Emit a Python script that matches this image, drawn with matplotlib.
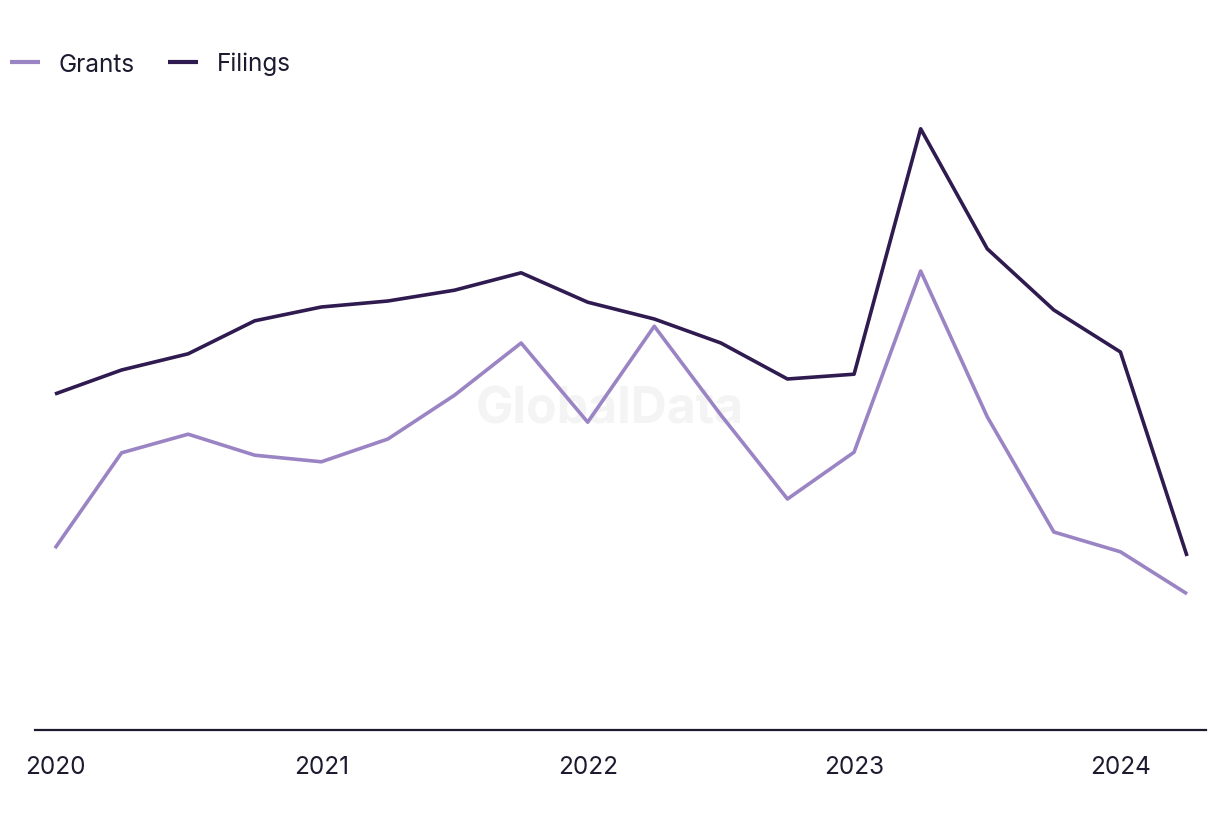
import matplotlib
matplotlib.use("Agg")
import matplotlib.pyplot as plt

quarters = ["2020Q1","2020Q2","2020Q3","2020Q4","2021Q1","2021Q2","2021Q3","2021Q4",
            "2022Q1","2022Q2","2022Q3","2022Q4","2023Q1","2023Q2","2023Q3","2023Q4",
            "2024Q1","2024Q2"]
filings = [56.0, 60.0, 62.7, 68.2, 70.5, 71.5, 73.3, 76.2, 71.3, 68.5, 64.5, 58.5,
           59.3, 100.2, 80.2, 70.0, 63.0, 29.0]
grants = [30.3, 46.2, 49.3, 45.8, 44.7, 48.5, 55.8, 64.5, 51.3, 67.3, 52.5, 38.5,
          46.3, 76.5, 52.2, 33.0, 29.7, 22.7]
tick_labels = ["2020", "2021", "2022", "2023", "2024"]

plt.rcParams['font.family'] = ['Inter', 'DejaVu Sans']
text_color = "#1b1a2e"

fig = plt.figure(figsize=(12.2, 8.2), dpi=100)
ax = fig.add_axes([35/1220, 89/820, (1206-35)/1220, 630/820])

x = list(range(len(quarters)))
l1, = ax.plot(x, grants, color="#9b84c4", lw=2.6, label="Grants", solid_capstyle="butt")
l2, = ax.plot(x, filings, color="#2f1b50", lw=2.6, label="Filings", solid_capstyle="butt")

ax.set_xlim(-0.3, 17.285)
ax.set_ylim(0, 105)
for s in ["top", "right", "left"]:
    ax.spines[s].set_visible(False)
ax.spines["bottom"].set_color(text_color)
ax.spines["bottom"].set_linewidth(1.6)
ax.set_yticks([])
ax.set_xticks([0, 4, 8, 12, 16])
ax.set_xticklabels(tick_labels, fontsize=17.5, color=text_color)
ax.tick_params(axis="x", length=0, pad=18)

ax.text(0.5, 0.50, "GlobalData", transform=fig.transFigure, ha="center", va="center",
        fontsize=36, fontweight="bold", color="#f4f4f4", zorder=0)

leg = fig.legend(handles=[l1, l2], loc="upper left", bbox_to_anchor=(10/1220, 1 - 53/820), ncol=2,
                 frameon=False, fontsize=17.5, handlelength=1.23, handletextpad=0.78,
                 columnspacing=1.36, labelcolor=text_color, borderpad=0, borderaxespad=0)
for h in leg.legend_handles:
    h.set_linewidth(3.0)

fig.savefig("out.png", dpi=100, facecolor="white")
